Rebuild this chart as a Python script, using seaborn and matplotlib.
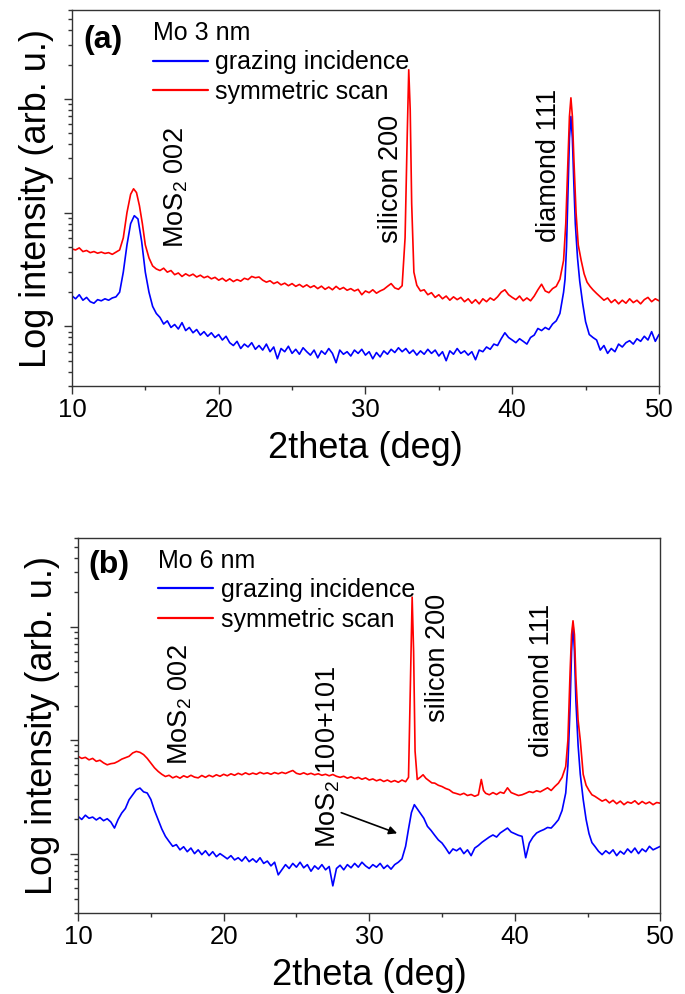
import matplotlib
matplotlib.use("Agg")
import matplotlib.pyplot as plt
import numpy as np
import pandas as pd
import seaborn as sns
from matplotlib.ticker import LogLocator, MultipleLocator, NullFormatter

# ---- panel (a): Mo 3 nm ----
a_gi_x = [10.0, 10.25, 10.5, 10.75, 11.0, 11.25, 11.5, 11.75, 12.0, 12.25, 12.5, 12.75, 13.0, 13.25,
          13.5, 13.75, 14.0, 14.25, 14.5, 14.75, 15.0, 15.25, 15.5, 15.75, 16.0, 16.25, 16.5, 16.75,
          17.0, 17.25, 17.5, 17.75, 18.0, 18.25, 18.5, 18.75, 19.0, 19.25, 19.5, 19.75, 20.0, 20.25,
          20.5, 20.75, 21.0, 21.25, 21.5, 21.75, 22.0, 22.25, 22.5, 22.75, 23.0, 23.25, 23.5, 23.75,
          24.0, 24.25, 24.5, 24.75, 25.0, 25.25, 25.5, 25.75, 26.0, 26.25, 26.5, 26.75, 27.0, 27.25,
          27.5, 27.75, 28.0, 28.25, 28.5, 28.75, 29.0, 29.25, 29.5, 29.75, 30.0, 30.25, 30.5, 30.75,
          31.0, 31.25, 31.5, 31.75, 32.0, 32.25, 32.5, 32.75, 33.0, 33.25, 33.5, 33.75, 34.0, 34.25,
          34.5, 34.75, 35.0, 35.25, 35.5, 35.75, 36.0, 36.25, 36.5, 36.75, 37.0, 37.25, 37.5, 37.75,
          38.0, 38.25, 38.5, 38.75, 39.0, 39.25, 39.5, 39.75, 40.0, 40.25, 40.5, 40.75, 41.0, 41.25,
          41.5, 41.75, 42.0, 42.25, 42.5, 42.75, 43.0, 43.25, 43.5, 43.6, 43.7, 43.8, 43.9, 44.0,
          44.1, 44.2, 44.3, 44.45, 44.6, 44.8, 45.0, 45.25, 45.5, 45.75, 46.0, 46.25, 46.5, 46.75,
          47.0, 47.25, 47.5, 47.75, 48.0, 48.25, 48.5, 48.75, 49.0, 49.25, 49.5, 49.75, 50.0]
a_gi_y = [186, 175, 190, 170, 180, 165, 160, 172, 168, 175, 170, 178, 182, 200,
          300, 520, 800, 940, 880, 560, 300, 200, 150, 130, 120, 105, 112, 98,
          104, 95, 108, 92, 98, 88, 94, 84, 90, 82, 88, 80, 85, 76,
          82, 72, 68, 74, 64, 70, 66, 72, 63, 68, 62, 70, 60, 66,
          52, 64, 60, 67, 58, 63, 57, 65, 60, 56, 62, 53, 61, 57,
          64, 58, 48, 62, 57, 60, 55, 62, 58, 63, 56, 60, 52, 59,
          54, 61, 57, 63, 59, 65, 60, 64, 58, 62, 56, 61, 57, 63,
          58, 62, 55, 60, 50, 61, 57, 64, 58, 61, 56, 60, 51, 62,
          60, 66, 63, 70, 68, 78, 88, 80, 76, 72, 78, 74, 70, 80,
          84, 96, 92, 98, 94, 105, 112, 130, 200, 260, 500, 1500, 4500, 7000,
          4500, 1800, 800, 400, 250, 160, 110, 85, 80, 76, 62, 68, 58, 64,
          60, 70, 66, 72, 75, 70, 78, 74, 82, 76, 90, 74, 85]

a_ss_x = [10.0, 10.25, 10.5, 10.75, 11.0, 11.25, 11.5, 11.75, 12.0, 12.25, 12.5, 12.75, 13.0, 13.25,
          13.5, 13.75, 14.0, 14.2, 14.4, 14.6, 14.8, 15.0, 15.25, 15.5, 15.75, 16.0, 16.25, 16.5,
          16.75, 17.0, 17.25, 17.5, 17.75, 18.0, 18.25, 18.5, 18.75, 19.0, 19.25, 19.5, 19.75, 20.0,
          20.25, 20.5, 20.75, 21.0, 21.25, 21.5, 21.75, 22.0, 22.25, 22.5, 22.75, 23.0, 23.25, 23.5,
          23.75, 24.0, 24.25, 24.5, 24.75, 25.0, 25.25, 25.5, 25.75, 26.0, 26.25, 26.5, 26.75, 27.0,
          27.25, 27.5, 27.75, 28.0, 28.25, 28.5, 28.75, 29.0, 29.25, 29.5, 29.75, 30.0, 30.25, 30.5,
          30.75, 31.0, 31.25, 31.5, 31.75, 32.0, 32.25, 32.5, 32.7, 32.85, 32.95, 33.05, 33.15, 33.3,
          33.5, 33.75, 34.0, 34.25, 34.5, 34.75, 35.0, 35.25, 35.5, 35.75, 36.0, 36.25, 36.5, 36.75,
          37.0, 37.25, 37.5, 37.75, 38.0, 38.25, 38.5, 38.75, 39.0, 39.25, 39.5, 39.75, 40.0, 40.25,
          40.5, 40.75, 41.0, 41.25, 41.5, 41.75, 42.0, 42.25, 42.5, 42.75, 43.0, 43.25, 43.5, 43.65,
          43.8, 43.9, 44.0, 44.1, 44.2, 44.35, 44.5, 44.7, 44.9, 45.1, 45.3, 45.5, 45.75, 46.0,
          46.25, 46.5, 46.75, 47.0, 47.25, 47.5, 47.75, 48.0, 48.25, 48.5, 48.75, 49.0, 49.25, 49.5,
          49.75, 50.0]
a_ss_y = [480, 470, 490, 455, 465, 445, 455, 440, 450, 438, 445, 430, 450, 470,
          600, 1000, 1450, 1620, 1500, 1150, 800, 520, 400, 340, 320, 310, 325, 300,
          310, 285, 295, 275, 290, 278, 288, 272, 282, 268, 276, 262, 270, 255,
          265, 250, 262, 248, 258, 250, 265, 258, 275, 268, 272, 255, 245, 252,
          238, 246, 232, 240, 228, 238, 225, 234, 222, 232, 220, 228, 215, 226,
          212, 222, 210, 225, 212, 220, 208, 215, 205, 212, 190, 205, 198, 210,
          196, 205, 212, 225, 238, 218, 212, 228, 600, 5000, 18000, 8000, 1200, 300,
          230, 205, 210, 190, 198, 180, 190, 175, 185, 170, 182, 172, 180, 165,
          175, 160, 172, 158, 175, 165, 178, 170, 182, 200, 210, 190, 180, 172,
          185, 168, 178, 168, 185, 210, 235, 205, 198, 215, 225, 260, 380, 800,
          3000, 7000, 10200, 7000, 3000, 1000, 520, 380, 290, 245, 225, 210, 195, 182,
          170, 178, 162, 172, 158, 170, 160, 175, 162, 170, 158, 172, 180, 165,
          175, 168]

# ---- panel (b): Mo 6 nm ----
b_gi_x = [10.0, 10.25, 10.5, 10.75, 11.0, 11.25, 11.5, 11.75, 12.0, 12.25, 12.5, 12.75, 13.0, 13.25,
          13.5, 13.75, 14.0, 14.25, 14.5, 14.75, 15.0, 15.25, 15.5, 15.75, 16.0, 16.25, 16.5, 16.75,
          17.0, 17.25, 17.5, 17.75, 18.0, 18.25, 18.5, 18.75, 19.0, 19.25, 19.5, 19.75, 20.0, 20.25,
          20.5, 20.75, 21.0, 21.25, 21.5, 21.75, 22.0, 22.25, 22.5, 22.75, 23.0, 23.25, 23.5, 23.75,
          24.0, 24.25, 24.5, 24.75, 25.0, 25.25, 25.5, 25.75, 26.0, 26.25, 26.5, 26.75, 27.0, 27.25,
          27.5, 27.75, 28.0, 28.25, 28.5, 28.75, 29.0, 29.25, 29.5, 29.75, 30.0, 30.25, 30.5, 30.75,
          31.0, 31.25, 31.5, 31.75, 32.0, 32.25, 32.5, 32.7, 32.9, 33.1, 33.3, 33.5, 33.75, 34.0,
          34.25, 34.5, 34.75, 35.0, 35.25, 35.5, 35.75, 36.0, 36.25, 36.5, 36.75, 37.0, 37.25, 37.5,
          37.75, 38.0, 38.25, 38.5, 38.75, 39.0, 39.25, 39.5, 39.75, 40.0, 40.25, 40.5, 40.75, 41.0,
          41.25, 41.5, 41.75, 42.0, 42.25, 42.5, 42.75, 43.0, 43.25, 43.5, 43.65, 43.8, 43.9, 44.0,
          44.1, 44.2, 44.35, 44.5, 44.7, 44.9, 45.1, 45.3, 45.5, 45.75, 46.0, 46.25, 46.5, 46.75,
          47.0, 47.25, 47.5, 47.75, 48.0, 48.25, 48.5, 48.75, 49.0, 49.25, 49.5, 49.75, 50.0]
b_gi_y = [213, 200, 218, 205, 210, 198, 208, 195, 203, 190, 168, 200, 228, 250,
          298, 330, 365, 378, 350, 342, 300, 240, 199, 165, 142, 128, 116, 120,
          108, 115, 104, 112, 100, 108, 98, 106, 96, 104, 94, 100, 95, 90,
          96, 88, 92, 86, 94, 85, 90, 84, 92, 82, 86, 78, 84, 65,
          72, 80, 74, 82, 76, 84, 75, 80, 70, 78, 73, 80, 72, 77,
          52, 74, 79, 72, 80, 75, 82, 76, 84, 78, 74, 80, 76, 82,
          74, 79, 73, 80, 84, 90, 116, 165, 230, 270, 248, 228, 205, 174,
          160, 145, 132, 124, 112, 100, 110, 106, 112, 100, 108, 96, 112, 118,
          126, 133, 140, 146, 140, 152, 160, 168, 155, 150, 145, 142, 92, 124,
          140, 152, 158, 163, 170, 168, 182, 199, 240, 342, 600, 2000, 6000, 10700,
          6000, 2200, 900, 500, 300, 200, 150, 125, 116, 105, 98, 106, 100, 108,
          96, 105, 99, 110, 102, 112, 100, 110, 104, 116, 108, 112, 116]

b_ss_x = [10.0, 10.25, 10.5, 10.75, 11.0, 11.25, 11.5, 11.75, 12.0, 12.25, 12.5, 12.75, 13.0, 13.25,
          13.5, 13.75, 14.0, 14.25, 14.5, 14.75, 15.0, 15.25, 15.5, 15.75, 16.0, 16.25, 16.5, 16.75,
          17.0, 17.25, 17.5, 17.75, 18.0, 18.25, 18.5, 18.75, 19.0, 19.25, 19.5, 19.75, 20.0, 20.25,
          20.5, 20.75, 21.0, 21.25, 21.5, 21.75, 22.0, 22.25, 22.5, 22.75, 23.0, 23.25, 23.5, 23.75,
          24.0, 24.25, 24.5, 24.75, 25.0, 25.25, 25.5, 25.75, 26.0, 26.25, 26.5, 26.75, 27.0, 27.25,
          27.5, 27.75, 28.0, 28.25, 28.5, 28.75, 29.0, 29.25, 29.5, 29.75, 30.0, 30.25, 30.5, 30.75,
          31.0, 31.25, 31.5, 31.75, 32.0, 32.25, 32.5, 32.7, 32.85, 32.95, 33.05, 33.15, 33.3, 33.5,
          33.7, 33.9, 34.1, 34.3, 34.5, 34.75, 35.0, 35.25, 35.5, 35.75, 36.0, 36.25, 36.5, 36.75,
          37.0, 37.25, 37.5, 37.7, 37.85, 38.0, 38.25, 38.5, 38.75, 39.0, 39.25, 39.5, 39.75, 40.0,
          40.25, 40.5, 40.75, 41.0, 41.25, 41.5, 41.75, 42.0, 42.25, 42.5, 42.75, 43.0, 43.25, 43.5,
          43.65, 43.8, 43.9, 44.0, 44.1, 44.2, 44.35, 44.5, 44.7, 44.9, 45.1, 45.3, 45.5, 45.75,
          46.0, 46.25, 46.5, 46.75, 47.0, 47.25, 47.5, 47.75, 48.0, 48.25, 48.5, 48.75, 49.0, 49.25,
          49.5, 49.75, 50.0]
b_ss_y = [720, 690, 705, 670, 690, 650, 665, 630, 606, 620, 627, 650, 680, 700,
          720, 770, 795, 780, 745, 690, 627, 570, 530, 500, 478, 490, 465, 480,
          462, 485, 470, 490, 472, 465, 488, 470, 490, 475, 495, 480, 500, 485,
          505, 490, 510, 495, 515, 498, 512, 500, 520, 505, 515, 500, 518, 505,
          520, 508, 525, 540, 510, 500, 515, 498, 510, 495, 505, 490, 500, 485,
          498, 480, 470, 480, 462, 475, 458, 470, 452, 465, 445, 455, 438, 450,
          432, 445, 428, 440, 425, 445, 430, 470, 4000, 18200, 6000, 800, 450, 470,
          495, 460, 440, 420, 418, 400, 390, 375, 365, 345, 338, 330, 340, 325,
          332, 320, 330, 450, 360, 340, 330, 345, 332, 348, 340, 380, 345, 335,
          325, 330, 340, 352, 345, 358, 350, 365, 380, 360, 390, 418, 470, 585,
          1000, 4000, 8500, 11250, 8500, 3500, 1500, 1000, 500, 400, 360, 330, 320, 305,
          290, 300, 280, 295, 275, 290, 270, 285, 278, 292, 272, 288, 275, 285,
          270, 282, 278]

scan_order = ["grazing incidence", "symmetric scan"]
scan_colors = {"grazing incidence": "#0000ff", "symmetric scan": "#ff0000"}

sns.set_style("ticks")
plt.rcParams["font.family"] = ["Liberation Sans", "DejaVu Sans"]
plt.rcParams["mathtext.default"] = "regular"
plt.rcParams["text.color"] = "black"
plt.rcParams["axes.labelcolor"] = "black"
plt.rcParams["xtick.color"] = "black"
plt.rcParams["ytick.color"] = "black"

fig = plt.figure(figsize=(6.85, 9.94), dpi=100)
ax_a = fig.add_axes([0.105, 0.6117, 0.857, 0.378])
ax_b = fig.add_axes([0.114, 0.0815, 0.850, 0.377])


def draw_panel(ax, gi_x, gi_y, ss_x, ss_y, tag, title, tag_pos):
    df = pd.concat([
        pd.DataFrame({"2theta": gi_x, "intensity": gi_y, "scan": scan_order[0]}),
        pd.DataFrame({"2theta": ss_x, "intensity": ss_y, "scan": scan_order[1]}),
    ])
    ax.set_yscale("log")
    sns.lineplot(data=df, x="2theta", y="intensity", hue="scan", hue_order=scan_order,
                 palette=scan_colors, estimator=None, sort=False, lw=1.2, ax=ax)
    ax.set_xlim(10, 50)
    ax.set_ylim(30, 60000)
    ax.xaxis.set_major_locator(MultipleLocator(10))
    ax.xaxis.set_minor_locator(MultipleLocator(5))
    ax.yaxis.set_major_locator(LogLocator(base=10))
    ax.yaxis.set_minor_locator(LogLocator(base=10, subs=np.arange(2, 10)))
    ax.yaxis.set_major_formatter(NullFormatter())
    ax.yaxis.set_minor_formatter(NullFormatter())
    ax.tick_params(which="major", direction="out", length=5.5, width=1.0, color="0.2",
                   labelsize=18.5, labelcolor="black", top=False, right=False)
    ax.tick_params(which="minor", direction="out", length=3, width=1.0, color="0.2",
                   top=False, right=False)
    for sp in ax.spines.values():
        sp.set_linewidth(1.0)
        sp.set_color("0.2")
    ax.set_xlabel("2theta (deg)", fontsize=26, labelpad=6, color="black")
    ax.set_ylabel("Log intensity (arb. u.)", fontsize=26, labelpad=4, color="black")
    ax.text(tag_pos[0], tag_pos[1], tag, transform=ax.transAxes, fontsize=23,
            fontweight="bold", ha="left", va="center", color="black")
    leg = ax.legend(title=title, loc="upper left", bbox_to_anchor=(0.138, 0.972), frameon=False,
                    fontsize=18, title_fontsize=18, alignment="left", handlelength=2.2,
                    handletextpad=0.3, labelspacing=0.22, borderpad=0, borderaxespad=0)
    for line in leg.get_lines():
        line.set_linewidth(1.6)
    for t in leg.get_texts():
        t.set_color("black")
    leg.get_title().set_color("black")


draw_panel(ax_a, a_gi_x, a_gi_y, a_ss_x, a_ss_y, "(a)", "Mo 3 nm", (0.019, 0.92))
draw_panel(ax_b, b_gi_x, b_gi_y, b_ss_x, b_ss_y, "(b)", "Mo 6 nm", (0.017, 0.928))

note = dict(rotation=90, ha="center", va="bottom", fontsize=19.5, color="black")
ax_a.text(17.1, 490, "MoS$_2$ 002", **note)
ax_a.text(31.75, 537, "silicon 200", **note)
ax_a.text(42.5, 550, "diamond 111", **note)

ax_b.text(17.0, 605, "MoS$_2$ 002", **note)
ax_b.text(27.2, 113, "MoS$_2$ 100+101", **note)
ax_b.text(34.7, 1450, "silicon 200", **note)
ax_b.text(41.9, 715, "diamond 111", **note)
ax_b.annotate("", xy=(32.1, 148), xytext=(27.9, 234),
              arrowprops=dict(arrowstyle="-|>", color="black", lw=1.2, mutation_scale=12))

fig.savefig("out.png", dpi=100)
